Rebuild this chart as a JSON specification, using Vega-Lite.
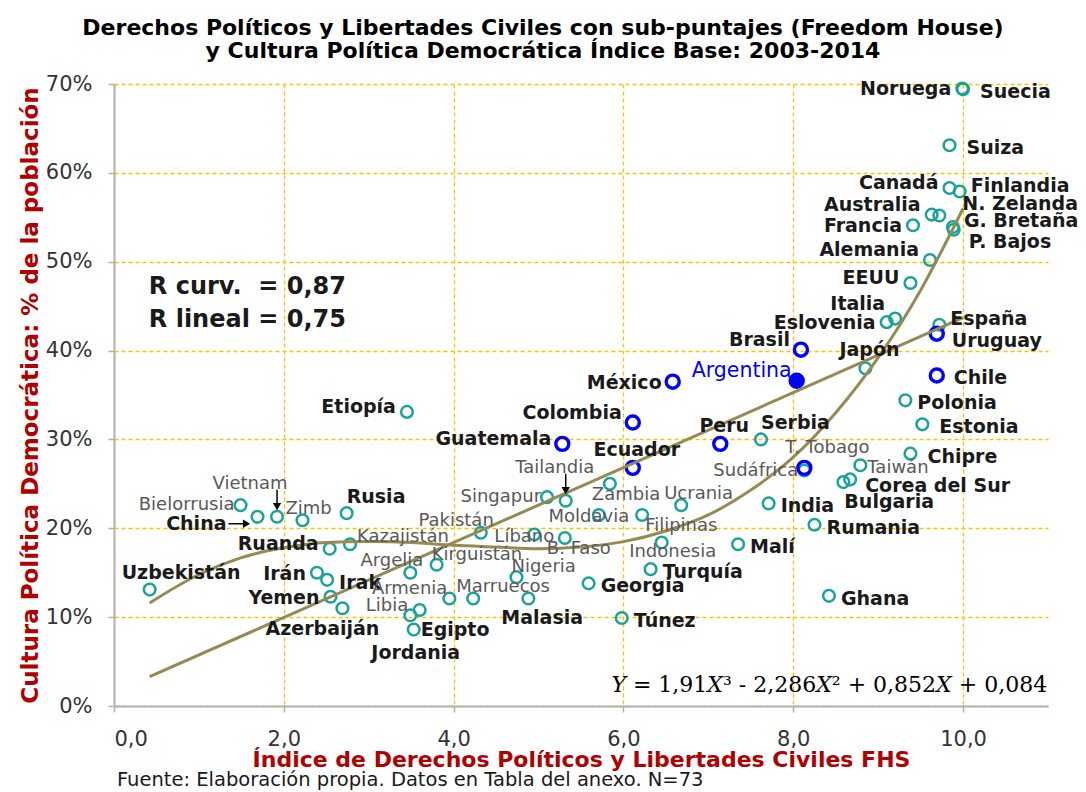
{
  "$schema": "https://vega.github.io/schema/vega-lite/v6.json",
  "width": 934,
  "height": 622,
  "autosize": {"type": "none"},
  "padding": {"left": 114, "top": 84, "right": 38, "bottom": 86},
  "background": "white",
  "config": {"view": {"stroke": null}, "font": "DejaVu Sans"},
  "title": {
    "text": ["Derechos Políticos y Libertades Civiles con sub-puntajes (Freedom House)", "y Cultura Política Democrática Índice Base: 2003-2014"],
    "font": "DejaVu Sans", "fontSize": 22, "fontWeight": "bold", "color": "#000000",
    "anchor": "middle", "frame": "group", "dx": -38, "offset": 10, "lineHeight": 23
  },
  "datasets": {
    "paises": [
      {"pais": "Noruega", "fhs": 9.99, "cpd": 0.695, "region": "Resto"},
      {"pais": "Suecia", "fhs": 10.0, "cpd": 0.694, "region": "Resto"},
      {"pais": "Suiza", "fhs": 9.84, "cpd": 0.631, "region": "Resto"},
      {"pais": "Canadá", "fhs": 9.84, "cpd": 0.583, "region": "Resto"},
      {"pais": "Finlandia", "fhs": 9.96, "cpd": 0.579, "region": "Resto"},
      {"pais": "Australia", "fhs": 9.63, "cpd": 0.553, "region": "Resto"},
      {"pais": "N. Zelanda", "fhs": 9.72, "cpd": 0.552, "region": "Resto"},
      {"pais": "G. Bretaña", "fhs": 9.88, "cpd": 0.539, "region": "Resto"},
      {"pais": "P. Bajos", "fhs": 9.89, "cpd": 0.536, "region": "Resto"},
      {"pais": "Francia", "fhs": 9.41, "cpd": 0.541, "region": "Resto"},
      {"pais": "Alemania", "fhs": 9.61, "cpd": 0.502, "region": "Resto"},
      {"pais": "EEUU", "fhs": 9.38, "cpd": 0.476, "region": "Resto"},
      {"pais": "Italia", "fhs": 9.20, "cpd": 0.436, "region": "Resto"},
      {"pais": "Eslovenia", "fhs": 9.10, "cpd": 0.432, "region": "Resto"},
      {"pais": "España", "fhs": 9.72, "cpd": 0.429, "region": "Resto"},
      {"pais": "Uruguay", "fhs": 9.69, "cpd": 0.419, "region": "América Latina"},
      {"pais": "Japón", "fhs": 8.85, "cpd": 0.380, "region": "Resto"},
      {"pais": "Brasil", "fhs": 8.09, "cpd": 0.401, "region": "América Latina"},
      {"pais": "Argentina", "fhs": 8.04, "cpd": 0.366, "region": "América Latina"},
      {"pais": "México", "fhs": 6.58, "cpd": 0.365, "region": "América Latina"},
      {"pais": "Chile", "fhs": 9.69, "cpd": 0.372, "region": "América Latina"},
      {"pais": "Polonia", "fhs": 9.32, "cpd": 0.344, "region": "Resto"},
      {"pais": "Estonia", "fhs": 9.52, "cpd": 0.317, "region": "Resto"},
      {"pais": "Chipre", "fhs": 9.38, "cpd": 0.284, "region": "Resto"},
      {"pais": "Colombia", "fhs": 6.11, "cpd": 0.319, "region": "América Latina"},
      {"pais": "Peru", "fhs": 7.14, "cpd": 0.295, "region": "América Latina"},
      {"pais": "Serbia", "fhs": 7.62, "cpd": 0.300, "region": "Resto"},
      {"pais": "Guatemala", "fhs": 5.28, "cpd": 0.295, "region": "América Latina"},
      {"pais": "Ecuador", "fhs": 6.11, "cpd": 0.268, "region": "América Latina"},
      {"pais": "Sudáfrica", "fhs": 8.13, "cpd": 0.265, "region": "Resto"},
      {"pais": "T. Tobago", "fhs": 8.13, "cpd": 0.268, "region": "América Latina"},
      {"pais": "Taiwán", "fhs": 8.79, "cpd": 0.271, "region": "Resto"},
      {"pais": "Corea del Sur", "fhs": 8.67, "cpd": 0.255, "region": "Resto"},
      {"pais": "Bulgaria", "fhs": 8.59, "cpd": 0.252, "region": "Resto"},
      {"pais": "India", "fhs": 7.71, "cpd": 0.228, "region": "Resto"},
      {"pais": "Rumania", "fhs": 8.25, "cpd": 0.204, "region": "Resto"},
      {"pais": "Malí", "fhs": 7.35, "cpd": 0.182, "region": "Resto"},
      {"pais": "Ghana", "fhs": 8.42, "cpd": 0.124, "region": "Resto"},
      {"pais": "Etiopía", "fhs": 3.45, "cpd": 0.331, "region": "Resto"},
      {"pais": "Bielorrusia", "fhs": 1.49, "cpd": 0.226, "region": "Resto"},
      {"pais": "China", "fhs": 1.69, "cpd": 0.213, "region": "Resto"},
      {"pais": "Vietnam", "fhs": 1.92, "cpd": 0.213, "region": "Resto"},
      {"pais": "Zimb", "fhs": 2.22, "cpd": 0.209, "region": "Resto"},
      {"pais": "Rusia", "fhs": 2.74, "cpd": 0.217, "region": "Resto"},
      {"pais": "Ruanda", "fhs": 2.54, "cpd": 0.177, "region": "Resto"},
      {"pais": "Kazajistán", "fhs": 2.78, "cpd": 0.182, "region": "Resto"},
      {"pais": "Uzbekistán", "fhs": 0.42, "cpd": 0.131, "region": "Resto"},
      {"pais": "Irán", "fhs": 2.39, "cpd": 0.150, "region": "Resto"},
      {"pais": "Irak", "fhs": 2.51, "cpd": 0.142, "region": "Resto"},
      {"pais": "Yemen", "fhs": 2.55, "cpd": 0.123, "region": "Resto"},
      {"pais": "Azerbaiján", "fhs": 2.69, "cpd": 0.110, "region": "Resto"},
      {"pais": "Argelia", "fhs": 3.49, "cpd": 0.150, "region": "Resto"},
      {"pais": "Kirguistán", "fhs": 3.80, "cpd": 0.159, "region": "Resto"},
      {"pais": "Armenia", "fhs": 3.95, "cpd": 0.121, "region": "Resto"},
      {"pais": "Marruecos", "fhs": 4.23, "cpd": 0.121, "region": "Resto"},
      {"pais": "Malasia", "fhs": 4.88, "cpd": 0.121, "region": "Resto"},
      {"pais": "Libia", "fhs": 3.49, "cpd": 0.102, "region": "Resto"},
      {"pais": "Egipto", "fhs": 3.60, "cpd": 0.108, "region": "Resto"},
      {"pais": "Jordania", "fhs": 3.53, "cpd": 0.086, "region": "Resto"},
      {"pais": "Nigeria", "fhs": 4.74, "cpd": 0.145, "region": "Resto"},
      {"pais": "Pakistán", "fhs": 4.32, "cpd": 0.195, "region": "Resto"},
      {"pais": "Líbano", "fhs": 4.95, "cpd": 0.193, "region": "Resto"},
      {"pais": "Singapur", "fhs": 5.10, "cpd": 0.235, "region": "Resto"},
      {"pais": "Tailandia", "fhs": 5.32, "cpd": 0.231, "region": "Resto"},
      {"pais": "Zambia", "fhs": 5.84, "cpd": 0.250, "region": "Resto"},
      {"pais": "Moldavia", "fhs": 5.71, "cpd": 0.215, "region": "Resto"},
      {"pais": "Ucrania", "fhs": 6.68, "cpd": 0.226, "region": "Resto"},
      {"pais": "Filipinas", "fhs": 6.22, "cpd": 0.215, "region": "Resto"},
      {"pais": "B. Faso", "fhs": 5.31, "cpd": 0.189, "region": "Resto"},
      {"pais": "Indonesia", "fhs": 6.45, "cpd": 0.184, "region": "Resto"},
      {"pais": "Georgia", "fhs": 5.59, "cpd": 0.138, "region": "Resto"},
      {"pais": "Turquía", "fhs": 6.32, "cpd": 0.154, "region": "Resto"},
      {"pais": "Túnez", "fhs": 5.98, "cpd": 0.099, "region": "Resto"}
    ],
    "cubica": [
      {"fhs": 0.42, "cpd": 0.116}, {"fhs": 1.0, "cpd": 0.148}, {"fhs": 1.5, "cpd": 0.167},
      {"fhs": 2.0, "cpd": 0.178}, {"fhs": 2.5, "cpd": 0.184}, {"fhs": 3.0, "cpd": 0.185},
      {"fhs": 3.5, "cpd": 0.184}, {"fhs": 4.0, "cpd": 0.181}, {"fhs": 4.5, "cpd": 0.179},
      {"fhs": 5.0, "cpd": 0.177}, {"fhs": 5.5, "cpd": 0.179}, {"fhs": 6.0, "cpd": 0.185},
      {"fhs": 6.5, "cpd": 0.197}, {"fhs": 7.0, "cpd": 0.215}, {"fhs": 7.5, "cpd": 0.243},
      {"fhs": 8.0, "cpd": 0.280}, {"fhs": 8.5, "cpd": 0.330}, {"fhs": 9.0, "cpd": 0.392},
      {"fhs": 9.5, "cpd": 0.468}, {"fhs": 10.0, "cpd": 0.560}
    ],
    "lineal": [
      {"fhs": 0.42, "cpd": 0.033}, {"fhs": 10.0, "cpd": 0.437}
    ]
  },
  "layer": [
    {
      "data": {"name": "paises"},
      "encoding": {
        "x": {
          "field": "fhs", "type": "quantitative",
          "scale": {"domain": [0, 11], "nice": false, "zero": false},
          "axis": {
            "values": [0, 2, 4, 6, 8, 10],
            "labelExpr": "replace(format(datum.value, '.1f'), '.', ',')",
            "grid": true, "gridColor": "#FFC000", "gridDash": [4, 3], "gridWidth": 1.3,
            "domainColor": "#B0B0B0", "domainWidth": 2,
            "tickColor": "#B0B0B0", "tickSize": 6, "tickWidth": 1.5,
            "labelFont": "DejaVu Sans", "labelFontSize": 21, "labelColor": "#333333", "labelPadding": 16,
            "title": "Índice de Derechos Políticos y Libertades Civiles FHS",
            "titleFont": "DejaVu Sans", "titleFontSize": 22, "titleFontWeight": "bold", "titleColor": "#B00000", "titlePadding": 0
          }
        },
        "y": {
          "field": "cpd", "type": "quantitative",
          "scale": {"domain": [0, 0.7], "nice": false},
          "axis": {
            "values": [0, 0.1, 0.2, 0.3, 0.4, 0.5, 0.6, 0.7],
            "format": ".0%",
            "grid": true, "gridColor": "#FFC000", "gridDash": [4, 3], "gridWidth": 1.3,
            "domainColor": "#B0B0B0", "domainWidth": 2,
            "tickColor": "#B0B0B0", "tickSize": 6, "tickWidth": 1.5,
            "labelFont": "DejaVu Sans", "labelFontSize": 21, "labelColor": "#333333", "labelPadding": 16,
            "title": "Cultura Política Democrática: % de la población",
            "titleFont": "DejaVu Sans", "titleFontSize": 23, "titleFontWeight": "bold", "titleColor": "#B00000", "titlePadding": 3
          }
        }
      },
      "layer": [
        {
          "transform": [{"filter": {"field": "region", "equal": "Resto"}}],
          "mark": {"type": "point", "shape": "circle", "filled": false, "stroke": "#1AA39A", "strokeWidth": 2.5, "size": 135, "opacity": 1}
        },
        {
          "transform": [{"filter": {"field": "region", "equal": "América Latina"}}],
          "mark": {"type": "point", "shape": "circle", "filled": false, "stroke": "#0000FF", "strokeWidth": 3.4, "size": 170, "opacity": 1}
        },
        {
          "transform": [{"filter": {"field": "pais", "equal": "Argentina"}}],
          "mark": {"type": "point", "shape": "circle", "filled": true, "color": "#0000FF", "size": 230, "opacity": 1}
        },
        {
          "data": {"name": "cubica"},
          "mark": {"type": "line", "color": "#958B52", "strokeWidth": 3, "interpolate": "monotone"}
        },
        {
          "data": {"name": "lineal"},
          "mark": {"type": "line", "color": "#958B52", "strokeWidth": 3}
        },
        {
          "transform": [{"filter": {"field": "pais", "oneOf": ["Vietnam", "Tailandia"]}}],
          "mark": {"type": "rule", "color": "#000000", "strokeWidth": 1.5, "yOffset": -27, "y2Offset": -12},
          "encoding": {"y2": {"field": "cpd"}}
        },
        {
          "transform": [{"filter": {"field": "pais", "oneOf": ["Vietnam", "Tailandia"]}}],
          "mark": {"type": "point", "shape": "triangle-down", "filled": true, "color": "#000000", "size": 70, "yOffset": -10, "opacity": 1}
        },
        {
          "transform": [{"filter": {"field": "pais", "equal": "China"}}],
          "mark": {"type": "rule", "color": "#000000", "strokeWidth": 1.5, "xOffset": -29, "x2Offset": -14, "yOffset": 7},
          "encoding": {"x2": {"field": "fhs"}}
        },
        {
          "transform": [{"filter": {"field": "pais", "equal": "China"}}],
          "mark": {"type": "point", "shape": "triangle-right", "filled": true, "color": "#000000", "size": 70, "xOffset": -11, "yOffset": 7, "opacity": 1}
        },
        {
          "transform": [{"filter": {"field": "pais", "oneOf": ["Suecia", "Suiza", "Chile", "Estonia", "Chipre"]}}],
          "mark": {"type": "text", "align": "left", "baseline": "middle", "dx": 17, "dy": 3, "font": "DejaVu Sans", "fontSize": 19, "fontWeight": "bold", "color": "#1a1a1a"},
          "encoding": {"text": {"field": "pais"}}
        },
        {
          "transform": [{"filter": {"field": "pais", "oneOf": ["Uruguay", "Corea del Sur"]}}],
          "mark": {"type": "text", "align": "left", "baseline": "middle", "dx": 15, "dy": 7, "font": "DejaVu Sans", "fontSize": 19, "fontWeight": "bold", "color": "#1a1a1a"},
          "encoding": {"text": {"field": "pais"}}
        },
        {
          "transform": [{"filter": {"field": "pais", "oneOf": ["Polonia", "Malí", "India", "Rumania", "Ghana", "Turquía", "Georgia", "Túnez", "Irak"]}}],
          "mark": {"type": "text", "align": "left", "baseline": "middle", "dx": 12, "dy": 3, "font": "DejaVu Sans", "fontSize": 19, "fontWeight": "bold", "color": "#1a1a1a"},
          "encoding": {"text": {"field": "pais"}}
        },
        {
          "transform": [{"filter": {"field": "pais", "oneOf": ["Finlandia", "G. Bretaña", "España"]}}],
          "mark": {"type": "text", "align": "left", "baseline": "middle", "dx": 11, "dy": -6, "font": "DejaVu Sans", "fontSize": 19, "fontWeight": "bold", "color": "#1a1a1a"},
          "encoding": {"text": {"field": "pais"}}
        },
        {
          "transform": [{"filter": {"field": "pais", "equal": "N. Zelanda"}}],
          "mark": {"type": "text", "align": "left", "baseline": "middle", "dx": 23, "dy": -12, "font": "DejaVu Sans", "fontSize": 19, "fontWeight": "bold", "color": "#1a1a1a"},
          "encoding": {"text": {"field": "pais"}}
        },
        {
          "transform": [{"filter": {"field": "pais", "equal": "P. Bajos"}}],
          "mark": {"type": "text", "align": "left", "baseline": "middle", "dx": 15, "dy": 12, "font": "DejaVu Sans", "fontSize": 19, "fontWeight": "bold", "color": "#1a1a1a"},
          "encoding": {"text": {"field": "pais"}}
        },
        {
          "transform": [{"filter": {"field": "pais", "oneOf": ["Serbia", "Rusia"]}}],
          "mark": {"type": "text", "align": "left", "baseline": "middle", "dx": 0, "dy": -16, "font": "DejaVu Sans", "fontSize": 19, "fontWeight": "bold", "color": "#1a1a1a"},
          "encoding": {"text": {"field": "pais"}}
        },
        {
          "transform": [{"filter": {"field": "pais", "oneOf": ["Noruega", "Francia", "Eslovenia", "México", "Irán", "Yemen"]}}],
          "mark": {"type": "text", "align": "right", "baseline": "middle", "dx": -11, "dy": 1, "font": "DejaVu Sans", "fontSize": 19, "fontWeight": "bold", "color": "#1a1a1a"},
          "encoding": {"text": {"field": "pais"}}
        },
        {
          "transform": [{"filter": {"field": "pais", "oneOf": ["Ruanda", "Guatemala", "EEUU", "Canadá", "Etiopía"]}}],
          "mark": {"type": "text", "align": "right", "baseline": "middle", "dx": -11, "dy": -5, "font": "DejaVu Sans", "fontSize": 19, "fontWeight": "bold", "color": "#1a1a1a"},
          "encoding": {"text": {"field": "pais"}}
        },
        {
          "transform": [{"filter": {"field": "pais", "oneOf": ["Australia", "Alemania", "Brasil", "Colombia"]}}],
          "mark": {"type": "text", "align": "right", "baseline": "middle", "dx": -11, "dy": -10, "font": "DejaVu Sans", "fontSize": 19, "fontWeight": "bold", "color": "#1a1a1a"},
          "encoding": {"text": {"field": "pais"}}
        },
        {
          "transform": [{"filter": {"field": "pais", "equal": "Italia"}}],
          "mark": {"type": "text", "align": "right", "baseline": "middle", "dx": -10, "dy": -15, "font": "DejaVu Sans", "fontSize": 19, "fontWeight": "bold", "color": "#1a1a1a"},
          "encoding": {"text": {"field": "pais"}}
        },
        {
          "transform": [{"filter": {"field": "pais", "oneOf": ["Japón", "Peru", "Ecuador"]}}],
          "mark": {"type": "text", "align": "center", "baseline": "middle", "dx": 4, "dy": -18, "font": "DejaVu Sans", "fontSize": 19, "fontWeight": "bold", "color": "#1a1a1a"},
          "encoding": {"text": {"field": "pais"}}
        },
        {
          "transform": [{"filter": {"field": "pais", "equal": "Uzbekistán"}}],
          "mark": {"type": "text", "align": "left", "baseline": "middle", "dx": -28, "dy": -17, "font": "DejaVu Sans", "fontSize": 19, "fontWeight": "bold", "color": "#1a1a1a"},
          "encoding": {"text": {"field": "pais"}}
        },
        {
          "transform": [{"filter": {"field": "pais", "equal": "Azerbaiján"}}],
          "mark": {"type": "text", "align": "right", "baseline": "middle", "dx": 37, "dy": 21, "font": "DejaVu Sans", "fontSize": 19, "fontWeight": "bold", "color": "#1a1a1a"},
          "encoding": {"text": {"field": "pais"}}
        },
        {
          "transform": [{"filter": {"field": "pais", "equal": "Malasia"}}],
          "mark": {"type": "text", "align": "left", "baseline": "middle", "dx": -27, "dy": 20, "font": "DejaVu Sans", "fontSize": 19, "fontWeight": "bold", "color": "#1a1a1a"},
          "encoding": {"text": {"field": "pais"}}
        },
        {
          "transform": [{"filter": {"field": "pais", "oneOf": ["Bulgaria", "Egipto"]}}],
          "mark": {"type": "text", "align": "left", "baseline": "middle", "dx": 1, "dy": 20, "font": "DejaVu Sans", "fontSize": 19, "fontWeight": "bold", "color": "#1a1a1a"},
          "encoding": {"text": {"field": "pais"}}
        },
        {
          "transform": [{"filter": {"field": "pais", "equal": "Jordania"}}],
          "mark": {"type": "text", "align": "center", "baseline": "middle", "dx": 2, "dy": 23, "font": "DejaVu Sans", "fontSize": 19, "fontWeight": "bold", "color": "#1a1a1a"},
          "encoding": {"text": {"field": "pais"}}
        },
        {
          "transform": [{"filter": {"field": "pais", "equal": "China"}}],
          "mark": {"type": "text", "align": "right", "baseline": "middle", "dx": -31, "dy": 7, "font": "DejaVu Sans", "fontSize": 19, "fontWeight": "bold", "color": "#1a1a1a"},
          "encoding": {"text": {"field": "pais"}}
        },
        {
          "transform": [{"filter": {"field": "pais", "equal": "Argentina"}}],
          "mark": {"type": "text", "align": "right", "baseline": "middle", "dx": -5, "dy": -10, "font": "DejaVu Sans", "fontSize": 20.5, "color": "#0000FF"},
          "encoding": {"text": {"field": "pais"}}
        },
        {
          "transform": [{"filter": {"field": "pais", "equal": "Vietnam"}}],
          "mark": {"type": "text", "align": "center", "baseline": "middle", "dx": -27, "dy": -33, "font": "DejaVu Sans", "fontSize": 18, "color": "#595959"},
          "encoding": {"text": {"field": "pais"}}
        },
        {
          "transform": [{"filter": {"field": "pais", "equal": "Tailandia"}}],
          "mark": {"type": "text", "align": "center", "baseline": "middle", "dx": -11, "dy": -33, "font": "DejaVu Sans", "fontSize": 18, "color": "#595959"},
          "encoding": {"text": {"field": "pais"}}
        },
        {
          "transform": [{"filter": {"field": "pais", "oneOf": ["Bielorrusia", "Singapur", "Sudáfrica"]}}],
          "mark": {"type": "text", "align": "right", "baseline": "middle", "dx": -6, "dy": 0, "font": "DejaVu Sans", "fontSize": 18, "color": "#595959"},
          "encoding": {"text": {"field": "pais"}}
        },
        {
          "transform": [{"filter": {"field": "pais", "oneOf": ["Zimb", "Ucrania", "Marruecos"]}}],
          "mark": {"type": "text", "align": "left", "baseline": "middle", "dx": -17, "dy": -11, "font": "DejaVu Sans", "fontSize": 18, "color": "#595959"},
          "encoding": {"text": {"field": "pais"}}
        },
        {
          "transform": [{"filter": {"field": "pais", "equal": "Taiwán"}}],
          "mark": {"type": "text", "align": "left", "baseline": "middle", "dx": 7, "dy": 3, "font": "DejaVu Sans", "fontSize": 18, "color": "#595959"},
          "encoding": {"text": {"field": "pais"}}
        },
        {
          "transform": [{"filter": {"field": "pais", "equal": "Kazajistán"}}],
          "mark": {"type": "text", "align": "left", "baseline": "middle", "dx": 7, "dy": -7, "font": "DejaVu Sans", "fontSize": 18, "color": "#595959"},
          "encoding": {"text": {"field": "pais"}}
        },
        {
          "transform": [{"filter": {"field": "pais", "oneOf": ["Argelia", "Pakistán"]}}],
          "mark": {"type": "text", "align": "right", "baseline": "middle", "dx": 13, "dy": -12, "font": "DejaVu Sans", "fontSize": 18, "color": "#595959"},
          "encoding": {"text": {"field": "pais"}}
        },
        {
          "transform": [{"filter": {"field": "pais", "oneOf": ["Armenia", "Libia"]}}],
          "mark": {"type": "text", "align": "right", "baseline": "middle", "dx": -2, "dy": -9, "font": "DejaVu Sans", "fontSize": 18, "color": "#595959"},
          "encoding": {"text": {"field": "pais"}}
        },
        {
          "transform": [{"filter": {"field": "pais", "oneOf": ["Kirguistán", "Nigeria"]}}],
          "mark": {"type": "text", "align": "left", "baseline": "middle", "dx": -5, "dy": -10, "font": "DejaVu Sans", "fontSize": 18, "color": "#595959"},
          "encoding": {"text": {"field": "pais"}}
        },
        {
          "transform": [{"filter": {"field": "pais", "oneOf": ["Líbano", "Moldavia"]}}],
          "mark": {"type": "text", "align": "center", "baseline": "middle", "dx": -10, "dy": 2, "font": "DejaVu Sans", "fontSize": 18, "color": "#595959"},
          "encoding": {"text": {"field": "pais"}}
        },
        {
          "transform": [{"filter": {"field": "pais", "oneOf": ["Zambia", "B. Faso"]}}],
          "mark": {"type": "text", "align": "left", "baseline": "middle", "dx": -18, "dy": 11, "font": "DejaVu Sans", "fontSize": 18, "color": "#595959"},
          "encoding": {"text": {"field": "pais"}}
        },
        {
          "transform": [{"filter": {"field": "pais", "equal": "Filipinas"}}],
          "mark": {"type": "text", "align": "left", "baseline": "middle", "dx": 3, "dy": 11, "font": "DejaVu Sans", "fontSize": 18, "color": "#595959"},
          "encoding": {"text": {"field": "pais"}}
        },
        {
          "transform": [{"filter": {"field": "pais", "equal": "Indonesia"}}],
          "mark": {"type": "text", "align": "center", "baseline": "middle", "dx": 11, "dy": 9, "font": "DejaVu Sans", "fontSize": 18, "color": "#595959"},
          "encoding": {"text": {"field": "pais"}}
        },
        {
          "transform": [{"filter": {"field": "pais", "equal": "T. Tobago"}}],
          "mark": {"type": "text", "align": "left", "baseline": "middle", "dx": -19, "dy": -20, "font": "DejaVu Sans", "fontSize": 18, "color": "#595959"},
          "encoding": {"text": {"field": "pais"}}
        }
      ]
    },
    {
      "data": {"values": [{"nota": "r"}]},
      "mark": {"type": "text", "align": "left", "baseline": "alphabetic", "font": "DejaVu Sans", "fontSize": 24, "fontWeight": "bold", "color": "#1a1a1a", "lineHeight": 33, "text": ["R curv.\u00a0\u00a0= 0,87", "R lineal = 0,75"]},
      "encoding": {"x": {"datum": 0.41, "type": "quantitative"}, "y": {"datum": 0.4637, "type": "quantitative"}}
    },
    {
      "data": {"values": [{"nota": "e"}]},
      "mark": {"type": "text", "align": "right", "baseline": "alphabetic", "font": "DejaVu Serif", "fontSize": 22, "color": "#000000", "text": "𝑌 = 1,91𝑋³ - 2,286𝑋² + 0,852𝑋 + 0,084"},
      "encoding": {"x": {"datum": 10.99, "type": "quantitative"}, "y": {"datum": 0.016, "type": "quantitative"}}
    },
    {
      "data": {"values": [{"nota": "f"}]},
      "mark": {"type": "text", "align": "left", "baseline": "middle", "font": "DejaVu Sans", "fontSize": 19.5, "color": "#1a1a1a", "text": "Fuente: Elaboración propia. Datos en Tabla del anexo. N=73"},
      "encoding": {"x": {"datum": 0.035, "type": "quantitative"}, "y": {"datum": -0.0833, "type": "quantitative"}}
    }
  ]
}
